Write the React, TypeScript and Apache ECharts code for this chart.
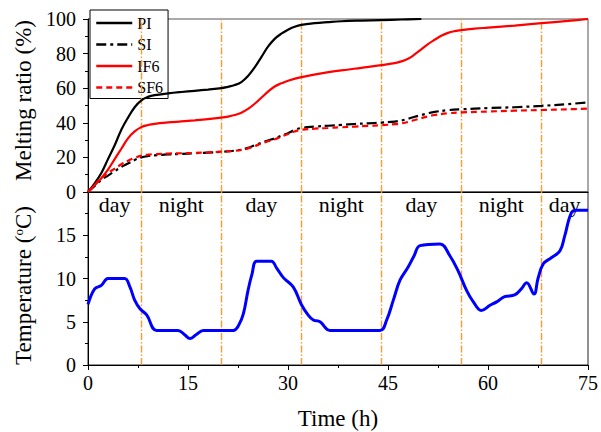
import React, { useEffect, useRef } from "react";
import * as echarts from "echarts";

const FONT = "'Liberation Serif', 'Times New Roman', serif";

const piTime = [0, 1, 2, 3, 4, 5, 6, 7, 8, 9, 10, 12, 14, 16, 18, 20, 21, 22, 23, 24, 25, 26, 27, 28, 29, 30, 31, 32, 34, 36, 38, 41, 44, 47, 50];
const piVals = [0, 5, 11, 19, 27, 36, 43, 49, 53, 55, 56, 57, 57.8, 58.5, 59.2, 60, 60.8, 61.8, 63.5, 67, 72, 78, 84, 88.5, 91.5, 93.8, 95.5, 96.6, 97.6, 98.2, 98.7, 99.1, 99.4, 99.7, 100];

const if6Time = [0, 1, 2, 3, 4, 5, 6, 7, 8, 9, 10, 12, 14, 16, 18, 20, 21, 22, 23, 24, 25, 26, 27, 28, 29, 30, 32, 35, 38, 41, 44, 46, 47, 48, 49, 50, 51, 52, 53, 54, 55, 56, 58, 60, 64, 68, 72, 75];
const if6Vals = [0, 4, 8, 13, 19, 25, 31, 35, 37.5, 38.7, 39.4, 40.2, 40.8, 41.4, 42.1, 43, 43.6, 44.5, 45.8, 48, 51, 54.5, 58, 61, 62.8, 64.3, 66.4, 68.6, 70.3, 71.8, 73.3, 74.5, 75.5, 77, 79.5, 82.5, 85.5, 88, 90.3, 92, 93, 93.6, 94.4, 95, 96.2, 97.6, 98.9, 100];

const siTime = [0, 1, 2, 3, 4, 5, 6, 7, 8, 9, 10, 12, 14, 16, 18, 20, 22, 23, 24, 25, 26, 27, 28, 29, 30, 31, 32, 34, 36, 38, 40, 42, 44, 46, 47, 48, 49, 50, 51, 52, 54, 56, 60, 64, 68, 72, 75];
const siVals = [0, 3.5, 7, 9.5, 12, 14.5, 16.5, 18.5, 20, 20.8, 21.2, 21.7, 22, 22.4, 22.8, 23.2, 23.9, 24.5, 25.5, 27, 28.5, 29.8, 31, 32.5, 34, 35.8, 37, 37.8, 38.3, 38.8, 39.3, 39.7, 40.1, 40.7, 41.3, 42.3, 43.5, 44.5, 45.5, 46.3, 47.3, 47.8, 48.5, 49, 49.8, 50.8, 51.8];

const sf6Time = siTime;
const sf6Vals = [0, 4, 8, 11, 13.5, 16, 18, 19.7, 21, 21.6, 21.9, 22.2, 22.4, 22.6, 22.9, 23.3, 23.8, 24.3, 25.2, 26.5, 28, 29.3, 30.5, 32, 33.5, 35, 36, 36.6, 37, 37.4, 37.8, 38.2, 38.6, 39.2, 39.7, 40.5, 41.6, 42.7, 43.7, 44.5, 45.5, 46, 46.5, 47, 47.4, 47.8, 48.2];

const tempTime = [0, 1, 2, 3, 4, 5.5, 6.3, 7, 7.8, 8.8, 10.3, 13.5, 14.5, 15.3, 16.2, 17.3, 21.8, 22.6, 23.3, 24, 24.6, 25.3, 27.5, 28.3, 29.3, 30.8, 32, 33, 33.8, 34.8, 36.3, 43.8, 44.8, 45.8, 46.8, 48, 48.9, 49.8, 52.8, 54.3, 55.5, 56.8, 57.8, 59, 60.3, 61.3, 62.5, 64, 65, 65.8, 66.9, 67.5, 68.3, 69.5, 70.8, 71.5, 72.5, 73.3, 75];
const tempVals = [7, 8.8, 9.2, 10, 10, 10, 9, 7.5, 6.5, 5.8, 4, 4, 3.5, 3.05, 3.5, 4, 4, 4.6, 5.9, 8.6, 10.5, 12, 12, 11.2, 10.1, 9, 7, 5.8, 5.2, 5, 4, 4, 5.2, 7.5, 9.8, 11.3, 12.6, 13.8, 14, 12.6, 10.9, 8.6, 7.3, 6.3, 6.9, 7.3, 7.9, 8.1, 8.8, 9.5, 8.2, 10, 11.7, 12.4, 13.2, 14.9, 17.6, 17.9, 17.9];

const boundaries = [8, 20, 32, 44, 56, 68];
const periodStarts = [0, 8, 20, 32, 44, 56, 68];
const periodEnds = [8, 20, 32, 44, 56, 68, 75];
const periodNames = ["day", "night", "day", "night", "day", "night", "day"];

const xTicks = { min: 0, max: 75, interval: 15 };

const zip = (t: number[], v: number[]) => t.map((x, i) => [x, v[i]]);

export default function App() {
  const ref = useRef<HTMLDivElement>(null);
  useEffect(() => {
    if (!ref.current) return;
    const chart = echarts.init(ref.current, undefined, { renderer: "svg" });
    const orange = "#ff9a2e";
    const vLines = () => ({
      silent: true,
      symbol: ["none", "none"],
      label: { show: false },
      emphasis: { disabled: true },
      lineStyle: { color: orange, type: [7, 2, 1.5, 2], width: 1.4, opacity: 1 },
      data: boundaries.map((b) => ({ xAxis: b, lineStyle: { color: orange } })),
    });
    const axisFont = { fontFamily: FONT, fontSize: 20, color: "#000" };
    const nameFont = { fontFamily: FONT, fontSize: 23, color: "#000" };
    chart.setOption({
      animation: false,
      textStyle: { fontFamily: FONT },
      grid: [
        { left: 88, top: 19, width: 500, height: 173, show: true, borderColor: "#555", borderWidth: 1 },
        { left: 88, top: 192, width: 500, height: 173, show: true, borderColor: "#222", borderWidth: 1 },
      ],
      legend: {
        data: ["PI", "SI", "IF6", "SF6"],
        orient: "vertical",
        left: 90,
        top: 10,
        itemWidth: 36,
        itemHeight: 14,
        itemGap: 5.5,
        padding: [5, 5, 3, 5],
        borderColor: "#000",
        borderWidth: 1,
        backgroundColor: "#fff",
        itemStyle: { opacity: 0 },
        lineStyle: { width: 2.5 },
        textStyle: { fontFamily: FONT, fontSize: 16, color: "#000" },
      },
      xAxis: [
        {
          gridIndex: 0,
          type: "value",
          ...xTicks,
          axisLine: { lineStyle: { color: "#000" } },
          axisTick: { show: false },
          axisLabel: { show: false },
          splitLine: { show: false },
        },
        {
          gridIndex: 1,
          type: "value",
          ...xTicks,
          name: "Time (h)",
          nameLocation: "middle",
          nameGap: 42,
          nameTextStyle: nameFont,
          axisLine: { lineStyle: { color: "#000" } },
          axisTick: { length: 5, lineStyle: { color: "#000" } },
          minorTick: { show: true, splitNumber: 2, length: 3, lineStyle: { color: "#000" } },
          axisLabel: { ...axisFont, margin: 8 },
          splitLine: { show: false },
        },
      ],
      yAxis: [
        {
          gridIndex: 0,
          type: "value",
          min: 0,
          max: 100,
          interval: 20,
          name: "Melting ratio (%)",
          nameLocation: "middle",
          nameGap: 53,
          nameTextStyle: { ...nameFont, padding: [0, 0, 0, 10] },
          axisLine: { show: true, lineStyle: { color: "#000" } },
          axisTick: { show: true, length: 5, lineStyle: { color: "#000" } },
          minorTick: { show: true, splitNumber: 2, length: 3, lineStyle: { color: "#000" } },
          axisLabel: { ...axisFont, margin: 12 },
          splitLine: { show: false },
        },
        {
          gridIndex: 1,
          type: "value",
          min: 0,
          max: 20,
          interval: 5,
          name: "Temperature ({sup|o}C)",
          nameLocation: "middle",
          nameGap: 53,
          nameTextStyle: {
            ...nameFont,
            padding: [0, 14, 0, 0],
            rich: { sup: { fontFamily: FONT, fontSize: 13, color: "#000", verticalAlign: "top", padding: [0, 0, 9, 0] } },
          },
          axisLine: { show: true, lineStyle: { color: "#000" } },
          axisTick: { show: true, length: 5, lineStyle: { color: "#000" } },
          minorTick: { show: true, splitNumber: 2, length: 3, lineStyle: { color: "#000" } },
          axisLabel: { ...axisFont, margin: 12, showMaxLabel: false },
          splitLine: { show: false },
        },
      ],
      series: [
        {
          name: "PI",
          type: "line",
          xAxisIndex: 0,
          yAxisIndex: 0,
          data: zip(piTime, piVals),
          symbol: "none",
          smooth: 0.4,
          lineStyle: { color: "#000", width: 2.2 },
          itemStyle: { color: "#000" },
          z: 5,
          markLine: vLines(),
        },
        {
          name: "SI",
          type: "line",
          xAxisIndex: 0,
          yAxisIndex: 0,
          data: zip(siTime, siVals),
          symbol: "none",
          smooth: 0.4,
          lineStyle: { color: "#000", width: 2.2, type: [10, 4, 3, 4] },
          itemStyle: { color: "#000" },
          z: 5,
        },
        {
          name: "IF6",
          type: "line",
          xAxisIndex: 0,
          yAxisIndex: 0,
          data: zip(if6Time, if6Vals),
          symbol: "none",
          smooth: 0.4,
          lineStyle: { color: "#ff0000", width: 2.2 },
          itemStyle: { color: "#ff0000" },
          z: 5,
        },
        {
          name: "SF6",
          type: "line",
          xAxisIndex: 0,
          yAxisIndex: 0,
          data: zip(sf6Time, sf6Vals),
          symbol: "none",
          smooth: 0.4,
          lineStyle: { color: "#ff0000", width: 2.2, type: [6, 4] },
          itemStyle: { color: "#ff0000" },
          z: 5,
        },
        {
          name: "Temperature",
          type: "line",
          xAxisIndex: 1,
          yAxisIndex: 1,
          data: zip(tempTime, tempVals),
          symbol: "none",
          smooth: 0.4,
          lineStyle: { color: "#0000ff", width: 3 },
          itemStyle: { color: "#0000ff" },
          z: 5,
          markLine: vLines(),
          markArea: {
            silent: true,
            itemStyle: { color: "rgba(0,0,0,0)" },
            label: { show: true, position: "insideTop", distance: 1, fontFamily: FONT, fontSize: 22, color: "#000" },
            data: periodNames.map((n, i) => [
              { name: n, xAxis: periodStarts[i] },
              { xAxis: periodEnds[i] },
            ]),
          },
        },
      ],
    });
    return () => chart.dispose();
  }, []);
  return <div ref={ref} style={{ width: 601, height: 432, position: "absolute", left: 0, top: 0 }} />;
}
